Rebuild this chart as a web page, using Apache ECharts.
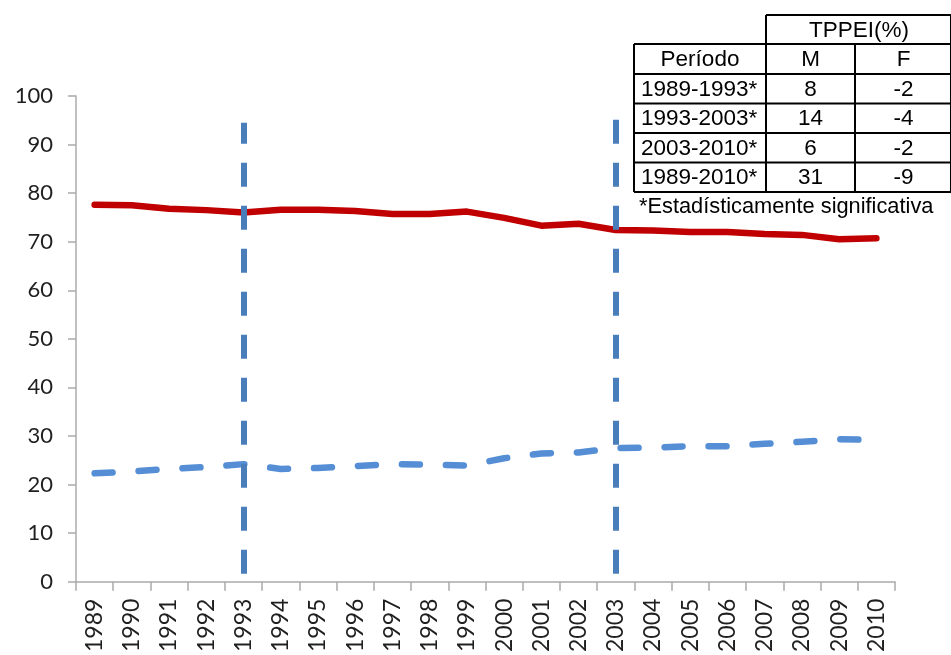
<!DOCTYPE html>
<html>
<head>
<meta charset="utf-8">
<script src="https://cdn.jsdelivr.net/npm/echarts@6/dist/echarts.min.js"></script>
<style>html,body{margin:0;padding:0;background:#fff;}#c{width:951px;height:655px;}</style>
</head>
<body>
<div id="c"></div>
<script>
// ---- data ----
var years = ['1989','1990','1991','1992','1993','1994','1995','1996','1997','1998','1999','2000','2001','2002','2003','2004','2005','2006','2007','2008','2009','2010'];
var valuesM = [77.6,77.5,76.8,76.5,76.0,76.6,76.6,76.3,75.7,75.7,76.2,74.9,73.3,73.7,72.4,72.3,72.0,72.0,71.6,71.4,70.5,70.7];
var valuesF = [22.3,22.7,23.2,23.6,24.2,23.2,23.4,23.8,24.2,24.1,23.9,25.4,26.4,26.6,27.5,27.6,27.9,27.9,28.4,28.8,29.3,29.2];
var yTicks = [0,10,20,30,40,50,60,70,80,90,100];
var markerYears = ['1993','2003'];
var markerTop = [94.5, 98.6];
var markerBottom = [1.6, 1.6];
// table
var tableHeader = 'TPPEI(%)';
var colHeaders = ['Período','M','F'];
var periods = ['1989-1993*','1993-2003*','2003-2010*','1989-2010*'];
var tableM = ['8','14','6','31'];
var tableF = ['-2','-4','-2','-9'];
var footnote = '*Estadísticamente significativa';

// ---- table graphics ----
var colX = [634, 766, 855, 952];
var rowY = [15, 44, 74, 103.5, 133, 162.5, 192];
var g = [];
var ls = {stroke:'#000', lineWidth:2};
function hline(x1,x2,y){ g.push({type:'line', shape:{x1:x1,y1:y,x2:x2,y2:y}, style:ls, silent:true}); }
function vline(x,y1,y2){ g.push({type:'line', shape:{x1:x,y1:y1,x2:x,y2:y2}, style:ls, silent:true}); }
function txt(s,x,y,align,size){ g.push({type:'text', x:x, y:y, silent:true, style:{text:s, font:(size||22.5)+'px "Liberation Sans", Arial, sans-serif', fill:'#000', align:align||'center', verticalAlign:'middle'}}); }
hline(colX[1], colX[3], rowY[0]);
for (var r = 1; r < rowY.length; r++) hline(colX[0], colX[3], rowY[r]);
vline(colX[1], rowY[0], rowY[6]);
vline(colX[0], rowY[1], rowY[6]);
vline(colX[2], rowY[1], rowY[6]);
vline(colX[3]-1, rowY[0], rowY[6]);
txt(tableHeader, (colX[1]+colX[3])/2, (rowY[0]+rowY[1])/2+1);
for (var c = 0; c < 3; c++) txt(colHeaders[c], (colX[c]+colX[c+1])/2, (rowY[1]+rowY[2])/2+1);
for (var i = 0; i < periods.length; i++) {
  var cy = (rowY[i+2]+rowY[i+3])/2+1;
  txt(periods[i], colX[0]+7, cy, 'left');
  txt(tableM[i], (colX[1]+colX[2])/2, cy);
  txt(tableF[i], (colX[2]+colX[3])/2, cy);
}
txt(footnote, 639, 207, 'left', 21.8);

var markData = markerYears.map(function(y, k){
  return [{coord:[y, markerBottom[k]]}, {coord:[y, markerTop[k]]}];
});

var lf = 'Lato, "Open Sans", sans-serif';
var chart = echarts.init(document.getElementById('c'), null, {renderer:'canvas'});
chart.setOption({
  animation: false,
  backgroundColor: '#fff',
  grid: {left: 76, right: 56, top: 96, bottom: 71.5, containLabel: false},
  xAxis: {
    type: 'category', data: years, boundaryGap: true,
    axisLine: {show: true, lineStyle: {color: '#ababab', width: 1.5}},
    axisTick: {show: true, length: 9, alignWithLabel: false, lineStyle: {color: '#ababab', width: 1.5}},
    axisLabel: {rotate: 90, interval: 0, margin: 17, fontSize: 23, fontFamily: lf, color: '#1f1f1f'},
    splitLine: {show: false}
  },
  yAxis: {
    type: 'value', min: yTicks[0], max: yTicks[yTicks.length-1], interval: 10,
    axisLine: {show: true, lineStyle: {color: '#ababab', width: 1.5}},
    axisTick: {show: true, length: 8, lineStyle: {color: '#ababab', width: 1.5}},
    axisLabel: {margin: 23, fontSize: 22, fontFamily: lf, color: '#1f1f1f'},
    splitLine: {show: false}
  },
  series: [
    {
      name: 'M', type: 'line', data: valuesM, symbol: 'none', smooth: false,
      lineStyle: {color: '#c00000', width: 6.5, cap: 'round', join: 'round'},
      z: 3,
      markLine: {
        silent: true, symbol: ['none','none'], label: {show: false},
        lineStyle: {color: '#4a7ebb', width: 6, type: [24, 19], cap: 'butt'},
        data: markData
      }
    },
    {
      name: 'F', type: 'line', data: valuesF, symbol: 'none', smooth: false,
      lineStyle: {color: '#558ed5', width: 6.5, type: [18, 26], cap: 'round', join: 'round'},
      z: 2
    }
  ],
  graphic: g
});
</script>
</body>
</html>
